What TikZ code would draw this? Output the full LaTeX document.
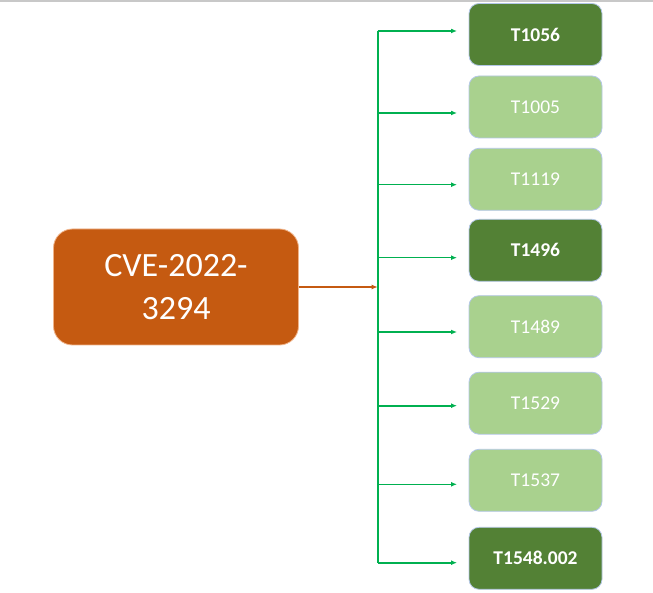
\documentclass[tikz,border=0pt]{standalone}
\usepackage{fontspec}
\setmainfont{Carlito}
\usetikzlibrary{arrows.meta}
\definecolor{cveorange}{HTML}{C55A11}
\definecolor{cveedge}{HTML}{F0B48A}
\definecolor{darkgreen}{HTML}{538135}
\definecolor{lightgreen}{HTML}{A9D18E}
\definecolor{boxedge}{HTML}{B4C7E7}
\definecolor{linegreen}{HTML}{00B050}
\definecolor{topgray}{HTML}{C8C8C8}
\tikzset{
  tbox/.style={rectangle, rounded corners=10pt, draw=boxedge, line width=0.8pt,
    minimum width=133pt, minimum height=62pt, inner sep=0pt, text=white,
    font=\fontsize{19.5}{23}\selectfont},
  tlight/.style={tbox, fill=lightgreen},
  tdark/.style={tbox, fill=darkgreen, font=\fontsize{19.5}{23}\selectfont\bfseries},
  cvebox/.style={rectangle, rounded corners=19pt, draw=cveedge, line width=0.8pt,
    fill=cveorange, minimum width=245pt, minimum height=116pt, inner sep=0pt,
    text=white, align=center, font=\fontsize{34}{42.7}\selectfont},
  gline/.style={draw=linegreen, line width=1.6pt},
  garrow/.style={gline, -{Latex[length=6pt,width=5pt]}},
  oarrow/.style={draw=cveorange, line width=1.2pt, -{Latex[length=6pt,width=5pt]}}
}
\begin{document}
\begin{tikzpicture}[x=1pt,y=-1pt]
\useasboundingbox (0,0) rectangle (653,593);
\fill[white] (0,0) rectangle (653,593);
\draw[topgray, line width=1.2pt] (0,1) -- (653,1);

\node[cvebox] (cve) at (176,287) {CVE-2022-\\3294};

\node[tdark]  (t1) at (535.5,34.5) {T1056};
\node[tlight] (t2) at (535.5,107) {T1005};
\node[tlight] (t3) at (535.5,179.3) {T1119};
\node[tdark]  (t4) at (535.5,250.3) {T1496};
\node[tlight] (t5) at (535.5,326.7) {T1489};
\node[tlight] (t6) at (535.5,403.2) {T1529};
\node[tlight] (t7) at (535.5,480.3) {T1537};
\node[tdark]  (t8) at (535.5,558.3) {T1548.002};

\coordinate (a1) at (457,31);
\coordinate (a2) at (457,113);
\coordinate (a3) at (457,184.7);
\coordinate (a4) at (457,257.7);
\coordinate (a5) at (457,332);
\coordinate (a6) at (457,405.7);
\coordinate (a7) at (457,484.3);
\coordinate (a8) at (457,562.7);
\coordinate (bt) at (377.7,31);
\coordinate (bb) at (377.7,562.7);

\draw[gline] (bt) -- (bb);
\foreach \i in {1,...,8}{
  \draw[garrow] (bt |- a\i) -- (a\i);
}
\draw[oarrow] (cve.east) -- (bt |- cve.east);
\end{tikzpicture}
\end{document}
